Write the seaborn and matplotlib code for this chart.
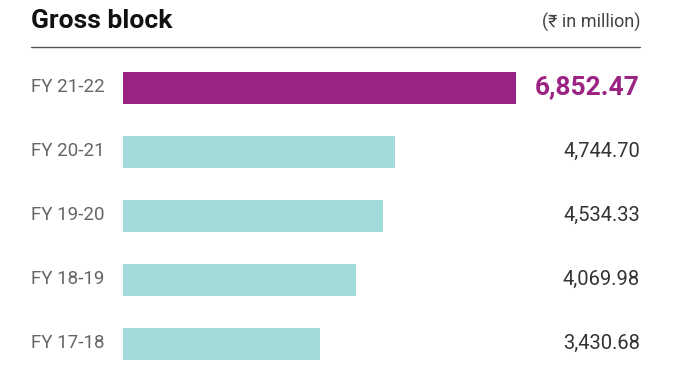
import matplotlib
matplotlib.use('Agg')
import matplotlib.pyplot as plt
import matplotlib.transforms as mtransforms
import seaborn as sns
import pandas as pd

years = ['FY 21-22', 'FY 20-21', 'FY 19-20', 'FY 18-19', 'FY 17-18']
gross_block = [6852.47, 4744.70, 4534.33, 4069.98, 3430.68]
colors = ['#9b2383', '#a3dada', '#a3dada', '#a3dada', '#a3dada']

df = pd.DataFrame({'year': years, 'value': gross_block})

sns.set_theme(style='white')
plt.rcParams['font.family'] = ['Roboto', 'DejaVu Sans']

fig = plt.figure(figsize=(6.77, 3.8), dpi=100)
W, H = 677, 380
ax = fig.add_axes([123 / W, 1 - 375.5 / H, (640 - 123) / W, 320 / H])

sns.barplot(data=df, x='value', y='year', hue='year', palette=colors,
            legend=False, width=0.5, ax=ax, orient='h', saturation=1,
            linewidth=0)

ax.set_xlim(0, (640 - 123) / ((516 - 123) / 6852.47))
ax.set_ylim(4.5, -0.5)
ax.axis('off')

trans = mtransforms.blended_transform_factory(ax.transAxes, ax.transData)
for i, (yr, v) in enumerate(zip(years, gross_block)):
    ax.text(-(123 - 31) / (640 - 123), i, yr, transform=trans, ha='left', va='center',
            fontsize=13.5, color='#666666')
    if i == 0:
        ax.text(1, i, f'{v:,.2f}', transform=trans, ha='right', va='center',
                fontsize=19, fontweight='bold', color='#9b2383')
    else:
        ax.text(1, i, f'{v:,.2f}', transform=trans, ha='right', va='center',
                fontsize=14.5, color='#333333')

fig.text(31 / W, 1 - 21 / H, 'Gross block', ha='left', va='center',
         fontsize=19, fontweight='bold', color='#111111')
fig.text(640 / W, 1 - 22 / H, '(₹ in million)', ha='right', va='center',
         fontsize=13, color='#444444')
fig.add_artist(plt.Line2D([31 / W, 640 / W], [1 - 47 / H, 1 - 47 / H],
                          color='#555555', linewidth=1, transform=fig.transFigure))

fig.savefig('out.png', dpi=100)
